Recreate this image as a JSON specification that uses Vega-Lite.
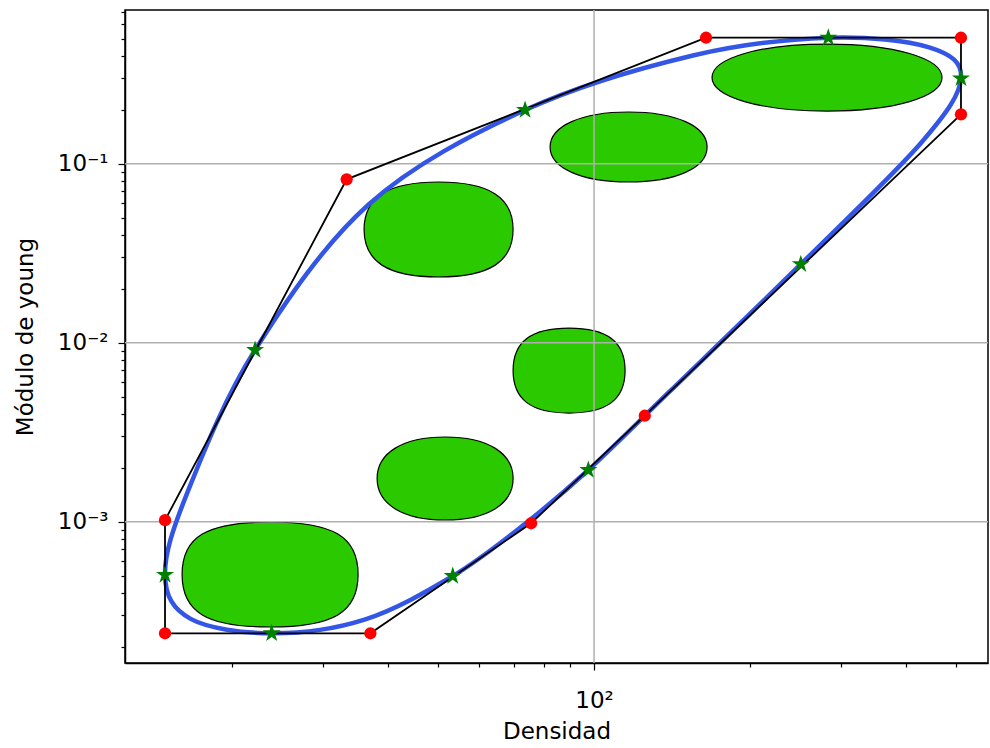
{
  "$schema": "https://vega.github.io/schema/vega-lite/v6.json",
  "width": 863,
  "height": 653,
  "autosize": "none",
  "padding": {"left": 125, "top": 10, "right": 2, "bottom": 85},
  "background": "white",
  "config": {
    "font": "DejaVu Sans",
    "view": {"stroke": "black", "strokeWidth": 1.5}
  },
  "datasets": {
    "blobs": [
      {"name": "A", "x": 23.69, "y": 0.000507},
      {"name": "B", "x": 51.58, "y": 0.001743},
      {"name": "C", "x": 89.5, "y": 0.00699},
      {"name": "D", "x": 50.1, "y": 0.0429},
      {"name": "E", "x": 116.6, "y": 0.124},
      {"name": "F", "x": 281.7, "y": 0.303}
    ],
    "control": [
      {"i": 1, "x": 14.85, "y": 0.00102},
      {"i": 2, "x": 14.85, "y": 0.000238},
      {"i": 3, "x": 37.0, "y": 0.000238},
      {"i": 4, "x": 75.6, "y": 0.00098},
      {"i": 5, "x": 125.3, "y": 0.00391},
      {"i": 6, "x": 511, "y": 0.1888},
      {"i": 7, "x": 511, "y": 0.5058},
      {"i": 8, "x": 164.5, "y": 0.5058},
      {"i": 9, "x": 33.3, "y": 0.0818}
    ],
    "mid": [
      {"x": 14.85, "y": 0.000504},
      {"x": 23.86, "y": 0.000238},
      {"x": 53.36, "y": 0.000497},
      {"x": 97.5, "y": 0.001944},
      {"x": 250.7, "y": 0.02745},
      {"x": 511, "y": 0.3},
      {"x": 283.3, "y": 0.5058},
      {"x": 73.6, "y": 0.1995},
      {"x": 22.16, "y": 0.0091}
    ],
    "curve": [
      {"i": 1, "x": 22.16, "y": 0.0091},
      {"i": 2, "x": 16.43, "y": 0.001473},
      {"i": 3, "x": 14.85, "y": 0.000504},
      {"i": 4, "x": 16.64, "y": 0.0002864},
      {"i": 5, "x": 23.86, "y": 0.000238},
      {"i": 6, "x": 36.06, "y": 0.0002838},
      {"i": 7, "x": 53.36, "y": 0.000497},
      {"i": 8, "x": 73.6, "y": 0.0009745},
      {"i": 9, "x": 97.5, "y": 0.001944},
      {"i": 10, "x": 140.0, "y": 0.00534},
      {"i": 11, "x": 250.7, "y": 0.02745},
      {"i": 12, "x": 428.5, "y": 0.1315},
      {"i": 13, "x": 511, "y": 0.3},
      {"i": 14, "x": 443.6, "y": 0.447},
      {"i": 15, "x": 283.3, "y": 0.5058},
      {"i": 16, "x": 155.2, "y": 0.4027},
      {"i": 17, "x": 73.6, "y": 0.1995},
      {"i": 18, "x": 36.76, "y": 0.0594}
    ],
    "gx": [{"x": 100}],
    "gy": [{"y": 0.001}, {"y": 0.01}, {"y": 0.1}]
  },
  "layer": [
    {
      "data": {"name": "blobs"},
      "transform": [{"filter": "datum.name == 'A'"}],
      "mark": {"type": "point", "shape": "M1,0 C1,0.4295 0.72,0.5966 0,0.5966 C-0.72,0.5966 -1,0.4295 -1,0 C-1,-0.4295 -0.72,-0.5966 0,-0.5966 C0.72,-0.5966 1,-0.4295 1,0 Z", "size": 30976, "filled": true, "fill": "#2bc900", "stroke": "black", "strokeWidth": 1.2, "opacity": 1},
      "encoding": {
        "x": {"field": "x", "type": "quantitative", "title": "Densidad",
          "scale": {"type": "log", "domain": [12.43, 576.2], "nice": false},
          "axis": {
            "values": [20, 30, 40, 50, 60, 70, 80, 90, 100, 200, 300, 400, 500],
            "labelExpr": "datum.value == 100 ? '10²' : ''",
            "grid": false,
            "tickSize": {"condition": {"test": "datum.value == 100", "value": 7}, "value": 4},
            "tickColor": "black", "tickWidth": 1.2,
            "domainColor": "black", "domainWidth": 1.5,
            "labelFontSize": 23, "labelColor": "black", "labelPadding": 19,
            "labelOverlap": false, "labelFlush": false,
            "titleFontSize": 23, "titleFontWeight": "normal", "titleColor": "black",
            "titleX": 431.5, "titleY": 57
          }
        },
        "y": {"field": "y", "type": "quantitative", "title": "Módulo de young",
          "scale": {"type": "log", "domain": [0.0001624, 0.7225], "nice": false},
          "axis": {
            "values": [0.0002, 0.0003, 0.0004, 0.0005, 0.0006, 0.0007, 0.0008, 0.0009, 0.001, 0.002, 0.003, 0.004, 0.005, 0.006, 0.007, 0.008, 0.009, 0.01, 0.02, 0.03, 0.04, 0.05, 0.06, 0.07, 0.08, 0.09, 0.1, 0.2, 0.3, 0.4, 0.5, 0.6, 0.7],
            "labelExpr": "datum.value == 0.1 ? '10⁻¹' : datum.value == 0.01 ? '10⁻²' : datum.value == 0.001 ? '10⁻³' : ''",
            "grid": false,
            "tickSize": {"condition": {"test": "datum.value == 0.1 || datum.value == 0.01 || datum.value == 0.001", "value": 7}, "value": 4},
            "tickColor": "black", "tickWidth": 1.2,
            "domainColor": "black", "domainWidth": 1.5,
            "labelFontSize": 23, "labelColor": "black", "labelPadding": 10,
            "labelOverlap": false, "labelFlush": false,
            "titleFontSize": 23, "titleFontWeight": "normal", "titleColor": "black",
            "titleX": -88, "titleY": 326.5
          }
        }
      }
    },
    {
      "data": {"name": "blobs"},
      "transform": [{"filter": "datum.name == 'B'"}],
      "mark": {"type": "point", "shape": "M1,0 C1,0.3784 0.62,0.6103 0,0.6103 C-0.62,0.6103 -1,0.3784 -1,0 C-1,-0.3784 -0.62,-0.6103 0,-0.6103 C0.62,-0.6103 1,-0.3784 1,0 Z", "size": 18496, "filled": true, "fill": "#2bc900", "stroke": "black", "strokeWidth": 1.2, "opacity": 1},
      "encoding": {
        "x": {"field": "x", "type": "quantitative", "title": "Densidad"},
        "y": {"field": "y", "type": "quantitative", "title": "Módulo de young"}
      }
    },
    {
      "data": {"name": "blobs"},
      "transform": [{"filter": "datum.name == 'C'"}],
      "mark": {"type": "point", "shape": "M1,0 C1,0.5161 0.68,0.7589 0,0.7589 C-0.68,0.7589 -1,0.5161 -1,0 C-1,-0.5161 -0.68,-0.7589 0,-0.7589 C0.68,-0.7589 1,-0.5161 1,0 Z", "size": 12544, "filled": true, "fill": "#2bc900", "stroke": "black", "strokeWidth": 1.2, "opacity": 1},
      "encoding": {
        "x": {"field": "x", "type": "quantitative", "title": "Densidad"},
        "y": {"field": "y", "type": "quantitative", "title": "Módulo de young"}
      }
    },
    {
      "data": {"name": "blobs"},
      "transform": [{"filter": "datum.name == 'D'"}],
      "mark": {"type": "point", "shape": "M1,0 C1,0.4336 0.68,0.6376 0,0.6376 C-0.68,0.6376 -1,0.4336 -1,0 C-1,-0.4336 -0.68,-0.6376 0,-0.6376 C0.68,-0.6376 1,-0.4336 1,0 Z", "size": 22201, "filled": true, "fill": "#2bc900", "stroke": "black", "strokeWidth": 1.2, "opacity": 1},
      "encoding": {
        "x": {"field": "x", "type": "quantitative", "title": "Densidad"},
        "y": {"field": "y", "type": "quantitative", "title": "Módulo de young"}
      }
    },
    {
      "data": {"name": "blobs"},
      "transform": [{"filter": "datum.name == 'E'"}],
      "mark": {"type": "point", "shape": "M1,0 C1,0.2675 0.6,0.4459 0,0.4459 C-0.6,0.4459 -1,0.2675 -1,0 C-1,-0.2675 -0.6,-0.4459 0,-0.4459 C0.6,-0.4459 1,-0.2675 1,0 Z", "size": 24649, "filled": true, "fill": "#2bc900", "stroke": "black", "strokeWidth": 1.2, "opacity": 1},
      "encoding": {
        "x": {"field": "x", "type": "quantitative", "title": "Densidad"},
        "y": {"field": "y", "type": "quantitative", "title": "Módulo de young"}
      }
    },
    {
      "data": {"name": "blobs"},
      "transform": [{"filter": "datum.name == 'F'"}],
      "mark": {"type": "point", "shape": "M1,0 C1,0.169 0.58,0.2913 0,0.2913 C-0.58,0.2913 -1,0.169 -1,0 C-1,-0.169 -0.58,-0.2913 0,-0.2913 C0.58,-0.2913 1,-0.169 1,0 Z", "size": 52900, "filled": true, "fill": "#2bc900", "stroke": "black", "strokeWidth": 1.2, "opacity": 1},
      "encoding": {
        "x": {"field": "x", "type": "quantitative", "title": "Densidad"},
        "y": {"field": "y", "type": "quantitative", "title": "Módulo de young"}
      }
    },
    {
      "data": {"name": "gx"},
      "mark": {"type": "rule", "color": "#b0b0b0", "strokeWidth": 1.5},
      "encoding": {
        "x": {"field": "x", "type": "quantitative", "title": "Densidad"}
      }
    },
    {
      "data": {"name": "gy"},
      "mark": {"type": "rule", "color": "#b0b0b0", "strokeWidth": 1.5},
      "encoding": {
        "y": {"field": "y", "type": "quantitative", "title": "Módulo de young"}
      }
    },
    {
      "data": {"name": "curve"},
      "mark": {"type": "line", "interpolate": "cardinal-closed", "color": "#3456e6", "strokeWidth": 4.5},
      "encoding": {
        "x": {"field": "x", "type": "quantitative", "title": "Densidad"},
        "y": {"field": "y", "type": "quantitative", "title": "Módulo de young"},
        "order": {"field": "i", "type": "quantitative"}
      }
    },
    {
      "data": {"name": "control"},
      "mark": {"type": "line", "interpolate": "linear-closed", "color": "black", "strokeWidth": 1.8},
      "encoding": {
        "x": {"field": "x", "type": "quantitative", "title": "Densidad"},
        "y": {"field": "y", "type": "quantitative", "title": "Módulo de young"},
        "order": {"field": "i", "type": "quantitative"}
      }
    },
    {
      "data": {"name": "control"},
      "mark": {"type": "point", "shape": "circle", "filled": true, "color": "#ff0000", "size": 150, "opacity": 1},
      "encoding": {
        "x": {"field": "x", "type": "quantitative", "title": "Densidad"},
        "y": {"field": "y", "type": "quantitative", "title": "Módulo de young"}
      }
    },
    {
      "data": {"name": "mid"},
      "mark": {"type": "point", "shape": "M0,-1 L0.2245,-0.309 L0.9511,-0.309 L0.3633,0.118 L0.5878,0.809 L0,0.382 L-0.5878,0.809 L-0.3633,0.118 L-0.9511,-0.309 L-0.2245,-0.309 Z", "filled": true, "color": "#008000", "size": 360, "opacity": 1},
      "encoding": {
        "x": {"field": "x", "type": "quantitative", "title": "Densidad"},
        "y": {"field": "y", "type": "quantitative", "title": "Módulo de young"}
      }
    }
  ]
}
